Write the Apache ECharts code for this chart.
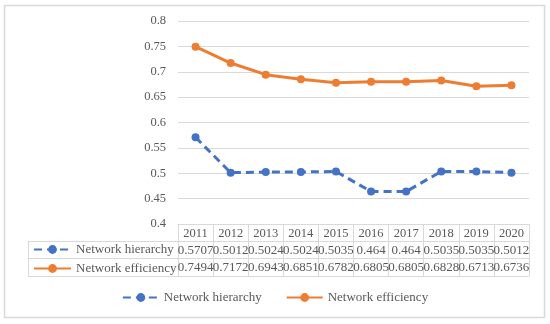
<!DOCTYPE html>
<html><head><meta charset="utf-8">
<script src="https://cdn.jsdelivr.net/npm/echarts@6/dist/echarts.min.js"></script>
<style>html,body{margin:0;padding:0;background:#fff}#c{width:550px;height:324px}</style>
</head><body><div id="c"></div>
<script>
var years = ['2011','2012','2013','2014','2015','2016','2017','2018','2019','2020'];
var hierarchy = [0.5707,0.5012,0.5024,0.5024,0.5035,0.464,0.464,0.5035,0.5035,0.5012];
var efficiency = [0.7494,0.7172,0.6943,0.6851,0.6782,0.6805,0.6805,0.6828,0.6713,0.6736];
var seriesNames = ['Network hierarchy','Network efficiency'];
var yTicks = {min:0.4, max:0.8, interval:0.05};

var FONT = 'Liberation Serif';
var TXT = '#595959';
var GRID = '#D9D9D9';
var BLUE = '#4472C4', ORANGE = '#ED7D31';

function rowAxis(data, offset, tickLen, fs){
  return {
    type:'category', data:data, position:'bottom', offset:offset, boundaryGap:true,
    axisLine:{show:true, lineStyle:{color:GRID, width:1}},
    axisTick:{show:true, length:tickLen, lineStyle:{color:GRID}},
    axisLabel:{interval:0, margin:3, fontFamily:FONT, fontSize:fs, color:TXT, hideOverlap:false},
    splitLine:{show:false}
  };
}

var chart = echarts.init(document.getElementById('c'), null, {renderer:'canvas'});
chart.setOption({
  animation:false,
  backgroundColor:'#fff',
  grid:{left:178, right:21, top:21, bottom:100, containLabel:false},
  xAxis:[
    rowAxis(years, 0, 17, 12.5),
    rowAxis(hierarchy.map(String), 17, 17, 13),
    rowAxis(efficiency.map(String), 34, 18, 13)
  ],
  yAxis:{
    type:'value', min:yTicks.min, max:yTicks.max, interval:yTicks.interval,
    axisLine:{show:false}, axisTick:{show:false},
    axisLabel:{margin:12, fontFamily:FONT, fontSize:12.5, color:TXT, formatter:function(v){return String(+v.toFixed(2));}},
    splitLine:{lineStyle:{color:GRID, width:1}}
  },
  legend:[
    {data:seriesNames, top:291, left:'center', itemWidth:36, itemHeight:11, itemGap:24,
     textStyle:{fontFamily:FONT, fontSize:13, color:TXT}, padding:0},
    {data:seriesNames, orient:'vertical', top:243, left:33, itemWidth:37, itemHeight:11, itemGap:6,
     textStyle:{fontFamily:FONT, fontSize:13, color:TXT}, padding:0}
  ],
  series:[
    {name:seriesNames[0], type:'line', data:hierarchy, xAxisIndex:0, symbol:'circle', symbolSize:8,
     color:BLUE, lineStyle:{color:BLUE, width:3, type:[8,5]}, itemStyle:{color:BLUE}},
    {name:seriesNames[1], type:'line', data:efficiency, xAxisIndex:0, symbol:'circle', symbolSize:8,
     color:ORANGE, lineStyle:{color:ORANGE, width:3}, itemStyle:{color:ORANGE}}
  ],
  graphic:[
    {type:'rect', shape:{x:4.5, y:5.5, width:540, height:312}, style:{fill:null, stroke:GRID, lineWidth:1.5}, silent:true},
    {type:'line', shape:{x1:28, y1:241.5, x2:178, y2:241.5}, style:{stroke:GRID}, silent:true},
    {type:'line', shape:{x1:28, y1:258.5, x2:178, y2:258.5}, style:{stroke:GRID}, silent:true},
    {type:'line', shape:{x1:28, y1:276.5, x2:529, y2:276.5}, style:{stroke:GRID}, silent:true},
    {type:'line', shape:{x1:28.5, y1:241, x2:28.5, y2:277}, style:{stroke:GRID}, silent:true}
  ]
});
</script></body></html>
